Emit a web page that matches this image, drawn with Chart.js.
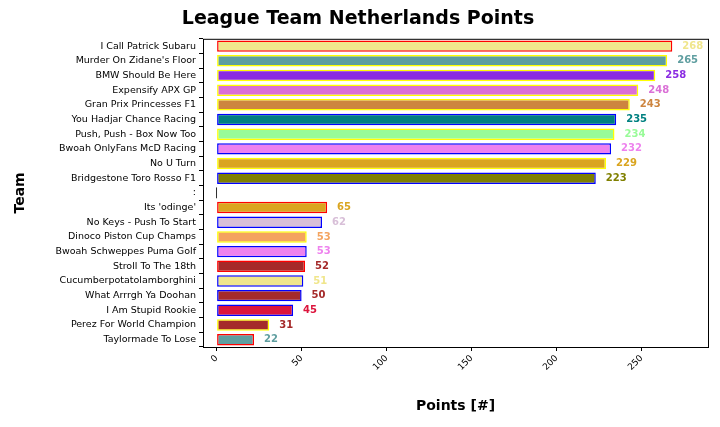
<!DOCTYPE html>
<html>
<head>
<meta charset="utf-8">
<script src="https://cdn.jsdelivr.net/npm/chart.js@4.4.1/dist/chart.umd.min.js"></script>
<style>
  body { margin: 0; background: #fff; }
  #wrap { width: 720px; height: 427px; }
</style>
</head>
<body>
<div id="wrap"><canvas id="chart"></canvas></div>
<script>
const teams = [
  "I Call Patrick Subaru", "Murder On Zidane's Floor", "BMW Should Be Here",
  "Expensify APX GP", "Gran Prix Princesses F1", "You Hadjar Chance Racing",
  "Push, Push - Box Now Too", "Bwoah OnlyFans McD Racing", "No U Turn",
  "Bridgestone Toro Rosso F1", ":", "Its 'odinge'", "No Keys - Push To Start",
  "Dinoco Piston Cup Champs", "Bwoah Schweppes Puma Golf", "Stroll To The 18th",
  "Cucumberpotatolamborghini", "What Arrrgh Ya Doohan", "I Am Stupid Rookie",
  "Perez For World Champion", "Taylormade To Lose"
];
const points = [268, 265, 258, 248, 243, 235, 234, 232, 229, 223, 0, 65, 62, 53, 53, 52, 51, 50, 45, 31, 22];
const fillColours = [
  "#f0e68c", "#5f9ea0", "#8a2be2", "#da70d6", "#cd853f", "#008080", "#98fb98",
  "#ee82ee", "#daa520", "#808000", "#000000", "#daa520", "#d8bfd8", "#f4a460",
  "#ee82ee", "#a52a2a", "#f0e68c", "#a52a2a", "#dc143c", "#a52a2a", "#5f9ea0"
];
const edgeColours = [
  "red", "yellow", "yellow", "yellow", "yellow", "blue", "yellow", "blue", "yellow",
  "blue", "black", "red", "blue", "yellow", "blue", "red", "blue", "blue", "blue",
  "yellow", "red"
];
const xTicks = [0, 50, 100, 150, 200, 250];

const valueLabels = {
  id: "valueLabels",
  afterDatasetsDraw(chart) {
    const { ctx } = chart;
    const meta = chart.getDatasetMeta(0);
    ctx.save();
    ctx.font = "bold 10px 'DejaVu Sans'";
    ctx.textBaseline = "middle";
    meta.data.forEach((bar, i) => {
      if (points[i] === 0) return;
      ctx.fillStyle = fillColours[i];
      ctx.fillText(points[i], bar.x + 10, bar.y);
    });
    ctx.restore();
  },
};

const frame = {
  id: "frame",
  afterDraw(chart) {
    const { ctx, chartArea: a } = chart;
    ctx.save();
    ctx.strokeStyle = "#000";
    ctx.lineWidth = 1;
    ctx.strokeRect(a.left + 0.5, a.top + 0.5, a.right - a.left, a.bottom - a.top);
    ctx.restore();
  },
};

new Chart(document.getElementById("chart"), {
  type: "bar",
  data: {
    labels: teams,
    datasets: [{
      data: points,
      backgroundColor: fillColours,
      borderColor: edgeColours,
      borderWidth: 1.5,
      borderSkipped: false,
      barPercentage: 0.78,
      categoryPercentage: 1,
      minBarLength: 1,
    }],
  },
  options: {
    indexAxis: "y",
    responsive: true,
    maintainAspectRatio: false,
    animation: false,
    layout: { padding: { top: 2, right: 12, left: 8, bottom: 8 } },
    plugins: {
      legend: { display: false },
      tooltip: { enabled: false },
      title: {
        display: true,
        text: "League Team Netherlands Points",
        color: "#000",
        font: { family: "DejaVu Sans", size: 19, weight: "bold" },
        padding: { top: 6, bottom: 8 },
      },
    },
    scales: {
      x: {
        min: -8,
        max: 289,
        afterBuildTicks(axis) { axis.ticks = xTicks.map(v => ({ value: v })); },
        afterFit(axis) { axis.height = 72; },
        grid: { display: true, drawOnChartArea: false, drawTicks: true, tickLength: 4, color: "#000" },
        border: { display: false },
        ticks: {
          color: "#000",
          maxRotation: 45,
          minRotation: 45,
          padding: 2,
          font: { family: "DejaVu Sans", size: 9 },
        },
        title: {
          display: true,
          text: "Points [#]",
          color: "#000",
          font: { family: "DejaVu Sans", size: 14, weight: "bold" },
        },
      },
      y: {
        afterFit(axis) { axis.width = 195; },
        grid: { display: true, drawOnChartArea: false, drawTicks: true, tickLength: 4, color: "#000" },
        border: { display: false },
        ticks: {
          color: "#000",
          autoSkip: false,
          padding: 3,
          font: { family: "DejaVu Sans", size: 9.5 },
        },
        title: {
          display: true,
          text: "Team",
          color: "#000",
          font: { family: "DejaVu Sans", size: 14, weight: "bold" },
        },
      },
    },
  },
  plugins: [valueLabels, frame],
});
</script>
</body>
</html>
